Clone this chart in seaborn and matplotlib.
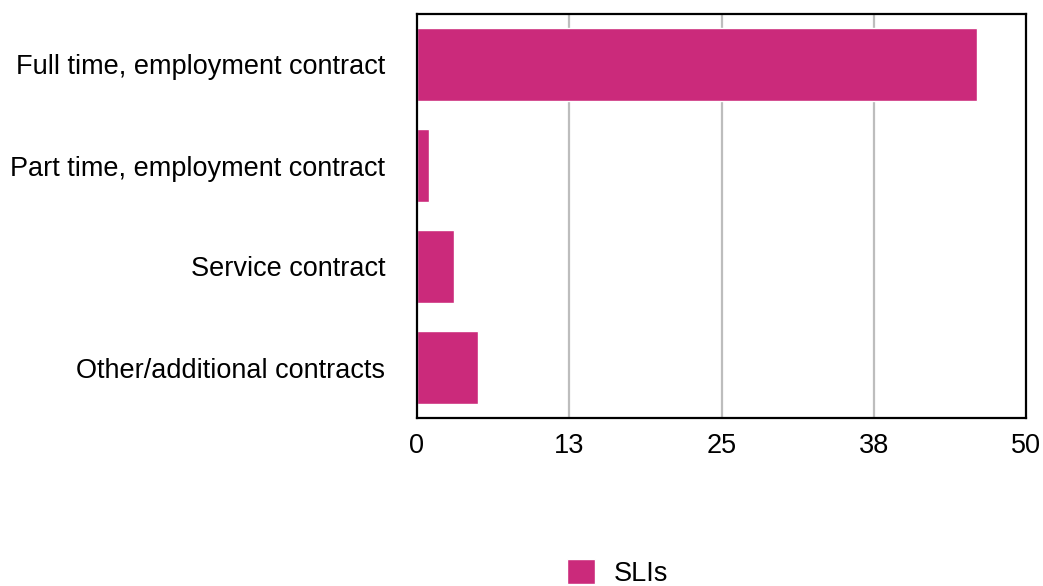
import matplotlib
matplotlib.use("Agg")
import matplotlib.pyplot as plt
import seaborn as sns
import pandas as pd

categories = [
    "Full time, employment contract",
    "Part time, employment contract",
    "Service contract",
    "Other/additional contracts",
]
slis = [46, 1, 3, 5]
tick_values = [0, 12.5, 25, 37.5, 50]
tick_labels = ["0", "13", "25", "38", "50"]
series_name = "SLIs"
bar_color = "#CB2A7B"

df = pd.DataFrame({"category": categories, "value": slis, "series": series_name})

sns.set_theme(style="white")
plt.rcParams["font.family"] = ["Liberation Sans", "DejaVu Sans"]
plt.rcParams["text.color"] = "black"

fig = plt.figure(figsize=(10.43, 5.86), dpi=100)
ax = fig.add_axes([417 / 1043, 1 - 418 / 586, (1026 - 417) / 1043, (418 - 14) / 586])

sns.barplot(data=df, y="category", x="value", hue="series", palette=[bar_color],
            orient="h", width=0.72, ax=ax, legend=True, saturation=1)

ax.set_xlim(0, 50)
ax.set_xticks(tick_values)
ax.set_xticklabels(tick_labels)
ax.set_xlabel("")
ax.set_ylabel("")
ax.tick_params(axis="both", length=0, labelsize=19.5, colors="black")
ax.tick_params(axis="x", pad=11)
ax.tick_params(axis="y", pad=23)

for v in tick_values[1:-1]:
    ax.axvline(v, color="#BDBDBD", lw=1.6, zorder=0)

for s in ax.spines.values():
    s.set_visible(True)
    s.set_color("black")
    s.set_linewidth(1.6)

handles, labels = ax.get_legend_handles_labels()
ax.get_legend().remove()
leg = fig.legend(handles, labels, loc="center", bbox_to_anchor=(0.592, 0.022),
                 frameon=False, fontsize=19.5, handlelength=1.05, handleheight=1.05,
                 handletextpad=0.7)
for t in leg.get_texts():
    t.set_color("black")

fig.savefig("out.png", dpi=100)
